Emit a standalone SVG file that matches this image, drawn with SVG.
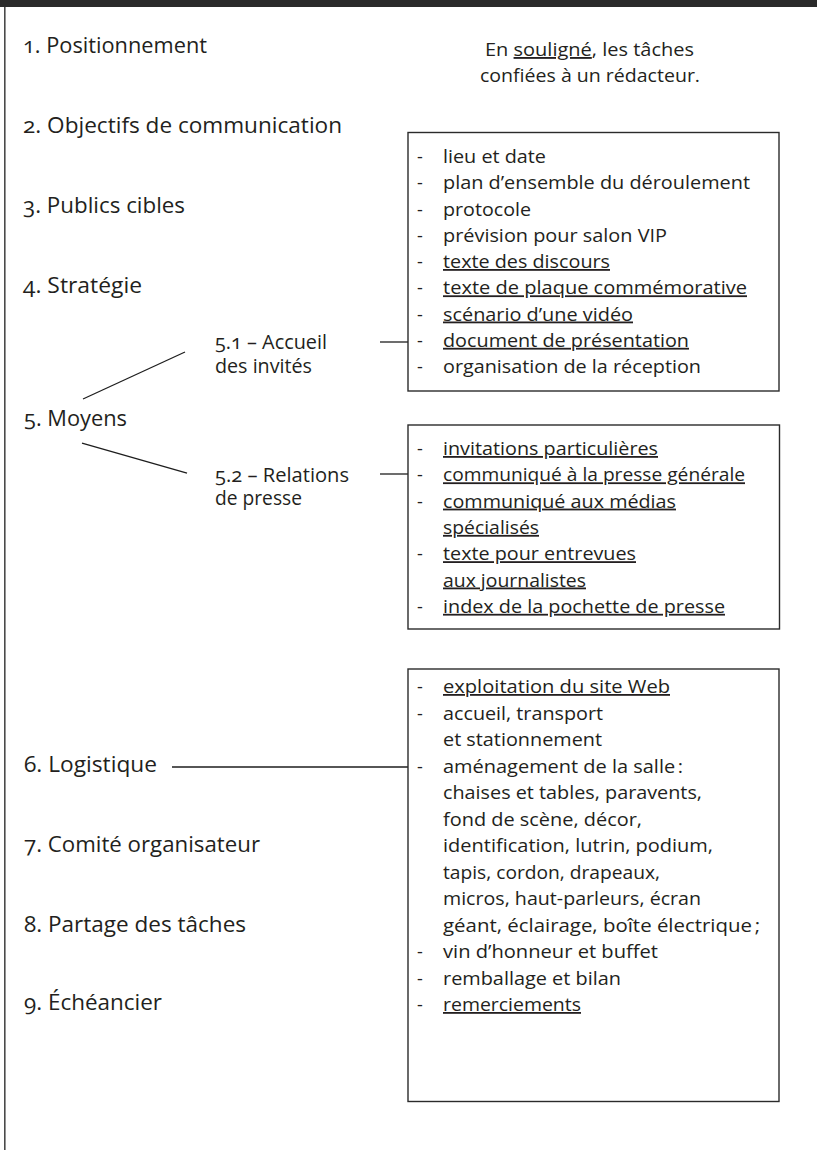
<svg xmlns="http://www.w3.org/2000/svg" width="817" height="1150" viewBox="0 0 817 1150">
  <style>
    text { font-family: "Open Sans", "Noto Sans", "Liberation Sans", sans-serif; fill: #231f20; font-variant-numeric: oldstyle-nums; }
    .step { font-size: 21.5px; }
    .sub { font-size: 19.5px; }
    .note { font-size: 18.5px; }
    .item { font-size: 18px; }
    .u { text-decoration: underline; }
    .box { fill: none; stroke: #2b2b2b; stroke-width: 1.4; }
    .link { fill: none; stroke: #1e1e1e; stroke-width: 1.3; }
  </style>

  <!-- page frame -->
  <rect x="0" y="0" width="817" height="7" fill="#2a2a2a"/>
  <line x1="4.8" y1="7" x2="4.8" y2="1150" stroke="#4a4a4a" stroke-width="1.6"/>

  <!-- plan steps -->
  <g id="steps">
    <text id="step1" class="step" x="23" y="53" textLength="184" lengthAdjust="spacingAndGlyphs">1. Positionnement</text>
    <text id="step2" class="step" x="23" y="133" textLength="319" lengthAdjust="spacingAndGlyphs">2. Objectifs de communication</text>
    <text id="step3" class="step" x="23" y="213" textLength="162" lengthAdjust="spacingAndGlyphs">3. Publics cibles</text>
    <text id="step4" class="step" x="23" y="293" textLength="119" lengthAdjust="spacingAndGlyphs">4. Stratégie</text>
    <text id="step5" class="step" x="24" y="426" textLength="103" lengthAdjust="spacingAndGlyphs">5. Moyens</text>
    <text id="step6" class="step" x="24" y="772" textLength="133" lengthAdjust="spacingAndGlyphs">6. Logistique</text>
    <text id="step7" class="step" x="24" y="852" textLength="236" lengthAdjust="spacingAndGlyphs">7. Comité organisateur</text>
    <text id="step8" class="step" x="24" y="932" textLength="222" lengthAdjust="spacingAndGlyphs">8. Partage des tâches</text>
    <text id="step9" class="step" x="24" y="1010" textLength="138" lengthAdjust="spacingAndGlyphs">9. Échéancier</text>
  </g>

  <!-- legend -->
  <g id="legend">
    <text class="note" x="485" y="56" textLength="209" lengthAdjust="spacingAndGlyphs">En <tspan class="u">souligné</tspan>, les tâches</text>
    <text class="note" x="480" y="82" textLength="220" lengthAdjust="spacingAndGlyphs">confiées à un rédacteur.</text>
  </g>

  <!-- sub-steps of 5 -->
  <g id="sub51">
    <text class="sub" x="215" y="349" textLength="112" lengthAdjust="spacingAndGlyphs">5.1 – Accueil</text>
    <text class="sub" x="215" y="373" textLength="97" lengthAdjust="spacingAndGlyphs">des invités</text>
  </g>
  <g id="sub52">
    <text class="sub" x="215" y="482" textLength="134" lengthAdjust="spacingAndGlyphs">5.2 – Relations</text>
    <text class="sub" x="215" y="505" textLength="87" lengthAdjust="spacingAndGlyphs">de presse</text>
  </g>

  <!-- connectors -->
  <g id="connectors">
    <line class="link" x1="83" y1="399" x2="185" y2="352"/>
    <line class="link" x1="82" y1="443" x2="187" y2="473"/>
    <line class="link" x1="380" y1="342" x2="408" y2="342"/>
    <line class="link" x1="380" y1="474" x2="408" y2="474"/>
    <line class="link" x1="172" y1="767" x2="408" y2="767"/>
  </g>

  <!-- task list: reception -->
  <g id="box-accueil">
    <rect class="box" x="408" y="132.5" width="371" height="258.5"/>
    <g class="item">
      <text x="417" y="163">-</text><text x="443" y="163" textLength="103" lengthAdjust="spacingAndGlyphs">lieu et date</text>
      <text x="417" y="189.3">-</text><text x="443" y="189.3" textLength="307" lengthAdjust="spacingAndGlyphs">plan d’ensemble du déroulement</text>
      <text x="417" y="215.5">-</text><text x="443" y="215.5" textLength="88" lengthAdjust="spacingAndGlyphs">protocole</text>
      <text x="417" y="241.8">-</text><text x="443" y="241.8" textLength="224" lengthAdjust="spacingAndGlyphs">prévision pour salon VIP</text>
      <text x="417" y="268">-</text><text class="u" x="443" y="268" textLength="167" lengthAdjust="spacingAndGlyphs">texte des discours</text>
      <text x="417" y="294.3">-</text><text class="u" x="443" y="294.3" textLength="304" lengthAdjust="spacingAndGlyphs">texte de plaque commémorative</text>
      <text x="417" y="320.5">-</text><text class="u" x="443" y="320.5" textLength="190" lengthAdjust="spacingAndGlyphs">scénario d’une vidéo</text>
      <text x="417" y="346.8">-</text><text class="u" x="443" y="346.8" textLength="246" lengthAdjust="spacingAndGlyphs">document de présentation</text>
      <text x="417" y="373">-</text><text x="443" y="373" textLength="258" lengthAdjust="spacingAndGlyphs">organisation de la réception</text>
    </g>
  </g>

  <!-- task list: press relations -->
  <g id="box-presse">
    <rect class="box" x="408" y="425" width="371.5" height="204"/>
    <g class="item">
      <text x="417" y="455">-</text><text class="u" x="443" y="455" textLength="215" lengthAdjust="spacingAndGlyphs">invitations particulières</text>
      <text x="417" y="481.3">-</text><text class="u" x="443" y="481.3" textLength="302" lengthAdjust="spacingAndGlyphs">communiqué à la presse générale</text>
      <text x="417" y="507.6">-</text><text class="u" x="443" y="507.6" textLength="233" lengthAdjust="spacingAndGlyphs">communiqué aux médias</text>
      <text class="u" x="443" y="533.9" textLength="96" lengthAdjust="spacingAndGlyphs">spécialisés</text>
      <text x="417" y="560.2">-</text><text class="u" x="443" y="560.2" textLength="193" lengthAdjust="spacingAndGlyphs">texte pour entrevues</text>
      <text class="u" x="443" y="586.5" textLength="143" lengthAdjust="spacingAndGlyphs">aux journalistes</text>
      <text x="417" y="612.8">-</text><text class="u" x="443" y="612.8" textLength="282" lengthAdjust="spacingAndGlyphs">index de la pochette de presse</text>
    </g>
  </g>

  <!-- task list: logistics -->
  <g id="box-logistique">
    <rect class="box" x="408" y="669" width="371" height="432.5"/>
    <g class="item">
      <text x="417" y="693">-</text><text class="u" x="443" y="693" textLength="227" lengthAdjust="spacingAndGlyphs">exploitation du site Web</text>
      <text x="417" y="719.5">-</text><text x="443" y="719.5" textLength="160" lengthAdjust="spacingAndGlyphs">accueil, transport</text>
      <text x="443" y="746" textLength="159" lengthAdjust="spacingAndGlyphs">et stationnement</text>
      <text x="417" y="772.5">-</text><text x="443" y="772.5" textLength="240" lengthAdjust="spacingAndGlyphs">aménagement de la salle&#8239;:</text>
      <text x="443" y="799" textLength="259" lengthAdjust="spacingAndGlyphs">chaises et tables, paravents,</text>
      <text x="443" y="825.5" textLength="199" lengthAdjust="spacingAndGlyphs">fond de scène, décor,</text>
      <text x="443" y="852" textLength="270" lengthAdjust="spacingAndGlyphs">identification, lutrin, podium,</text>
      <text x="443" y="878.5" textLength="217" lengthAdjust="spacingAndGlyphs">tapis, cordon, drapeaux,</text>
      <text x="443" y="905" textLength="258" lengthAdjust="spacingAndGlyphs">micros, haut-parleurs, écran</text>
      <text x="443" y="931.5" textLength="317" lengthAdjust="spacingAndGlyphs">géant, éclairage, boîte électrique&#8239;;</text>
      <text x="417" y="958">-</text><text x="443" y="958" textLength="215" lengthAdjust="spacingAndGlyphs">vin d’honneur et buffet</text>
      <text x="417" y="984.5">-</text><text x="443" y="984.5" textLength="178" lengthAdjust="spacingAndGlyphs">remballage et bilan</text>
      <text x="417" y="1011">-</text><text class="u" x="443" y="1011" textLength="138" lengthAdjust="spacingAndGlyphs">remerciements</text>
    </g>
  </g>
</svg>
